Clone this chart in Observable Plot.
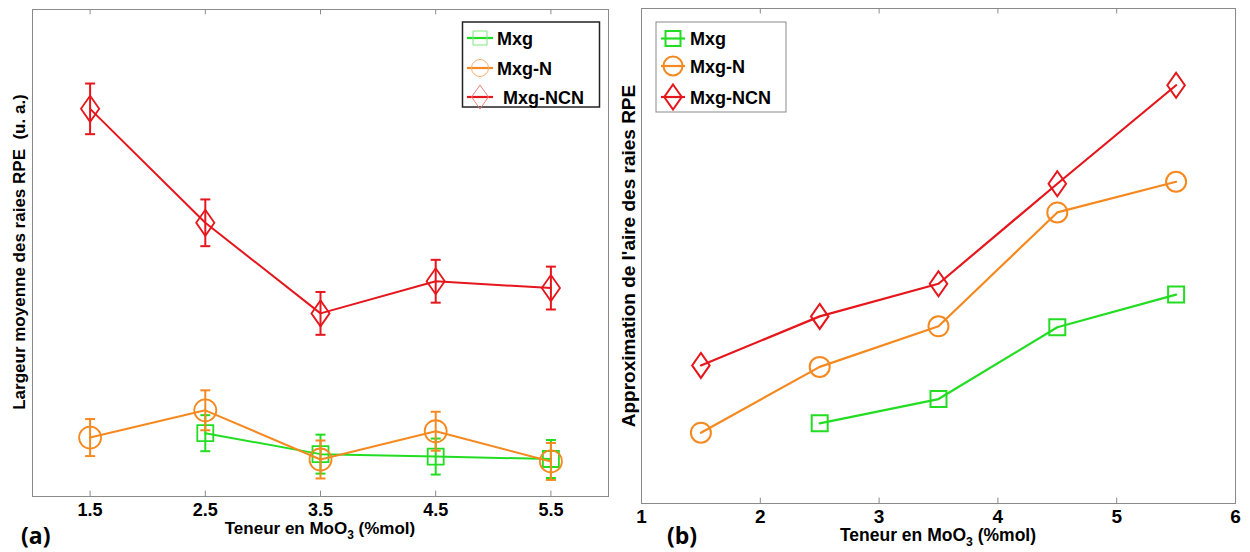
<!DOCTYPE html>
<html><head><meta charset="utf-8">
<script src="https://cdn.jsdelivr.net/npm/d3@7"></script>
<script src="https://cdn.jsdelivr.net/npm/@observablehq/plot@0.6"></script>
<style>
html,body{margin:0;padding:0;background:#fff;}
#wrap{position:relative;width:1250px;height:552px;overflow:hidden;background:#fff;}
#wrap svg{position:absolute;top:0;}
</style></head><body><div id="wrap"></div>
<script>
// ---------- data ----------
const teneur = [1.5, 2.5, 3.5, 4.5, 5.5];
const seriesNames = ["Mxg", "Mxg-N", "Mxg-NCN"];
const seriesColors = ["#22dd22", "#f5891f", "#e5161c"];
const legendLight = ["#7fe67f", "#f6b173", "#ee8080"];
// panel (a): Largeur moyenne des raies RPE (u. a.)
const largeurMxg = [null, 13.0, 8.7, 8.2, 7.7];
const largeurMxgErr = [null, 3.7, 4.0, 3.7, 3.9];
const largeurMxgN = [12.1, 17.7, 7.6, 13.4, 7.2];
const largeurMxgNErr = [3.8, 4.1, 3.9, 4.0, 3.8];
const largeurMxgNCN = [79.6, 56.2, 37.6, 44.2, 42.8];
const largeurMxgNCNErr = [5.2, 4.8, 4.4, 4.4, 4.4];
// panel (b): Approximation de l'aire des raies RPE
const aireMxg = [null, 16.2, 21.1, 35.6, 42.2];
const aireMxgN = [14.3, 27.6, 35.8, 58.8, 65.0];
const aireMxgNCN = [27.9, 37.8, 44.4, 64.6, 84.5];
// ticks
const ticksA = [1.5, 2.5, 3.5, 4.5, 5.5];
const ticksB = [1, 2, 3, 4, 5, 6];
const innerTicksB = [2, 3, 4, 5];

// ---------- symbols ----------
const symSquare = {draw(c, s) {const r = Math.sqrt(s / Math.PI); c.moveTo(-r, -r); c.lineTo(r, -r); c.lineTo(r, r); c.lineTo(-r, r); c.closePath();}};
const symCircle = {draw(c, s) {const r = Math.sqrt(s / Math.PI); c.moveTo(r, 0); c.arc(0, 0, r, 0, 2 * Math.PI); c.closePath();}};
const symDiamond = {draw(c, s) {const r = Math.sqrt(s / Math.PI); const w = r * 0.7; c.moveTo(0, -r); c.lineTo(w, 0); c.lineTo(0, r); c.lineTo(-w, 0); c.closePath();}};
const symCap = {draw(c, s) {const r = Math.sqrt(s / Math.PI); c.moveTo(-r, 0); c.lineTo(r, 0);}};
const symbols = [symSquare, symCircle, symDiamond];
const symR = [8, 11, 13];

function rows(vals, errs) {
  return teneur.map((x, i) => ({x, y: vals[i], e: errs ? errs[i] : 0})).filter(d => d.y != null);
}

const FONT = "'Liberation Sans', Arial, sans-serif";
const FRAME = "#8a8a8a";
const wrap = document.getElementById("wrap");

// ---------- panel (a) ----------
const dataA = [rows(largeurMxg, largeurMxgErr), rows(largeurMxgN, largeurMxgNErr), rows(largeurMxgNCN, largeurMxgNCNErr)];
const marksA = [
  Plot.frame({stroke: FRAME}),
  Plot.ruleX(ticksA, {x: d => d, y1: 0, y2: 1.1, stroke: FRAME}),
  Plot.ruleX(ticksA, {x: d => d, y1: 100, y2: 98.9, stroke: FRAME}),
  Plot.axisX(ticksA, {tickSize: 0, tickPadding: 7, fontSize: 18, fontWeight: "bold", fill: "black", label: null, tickFormat: d => d.toFixed(1)})
];
dataA.forEach((rs, i) => {
  const col = seriesColors[i];
  marksA.push(
    Plot.line(rs, {x: "x", y: "y", stroke: col, strokeWidth: 2}),
    Plot.ruleX(rs, {x: "x", y1: d => d.y - d.e, y2: d => d.y + d.e, stroke: col, strokeWidth: 2}),
    Plot.dot(rs, {x: "x", y: d => d.y - d.e, symbol: symCap, r: 5, stroke: col, strokeWidth: 2}),
    Plot.dot(rs, {x: "x", y: d => d.y + d.e, symbol: symCap, r: 5, stroke: col, strokeWidth: 2}),
    Plot.dot(rs, {x: "x", y: "y", symbol: symbols[i], r: symR[i], stroke: col, fill: "none", strokeWidth: 1.8})
  );
});
const plotA = Plot.plot({
  width: 620, height: 552,
  marginLeft: 32, marginRight: 12, marginTop: 9, marginBottom: 56,
  x: {domain: [1, 6]},
  y: {domain: [0, 100], axis: null},
  style: {fontFamily: FONT, background: "transparent", overflow: "visible"},
  marks: marksA
});
plotA.style.left = "0px";
wrap.appendChild(plotA);

// ---------- panel (b) ----------
const dataB = [rows(aireMxg), rows(aireMxgN), rows(aireMxgNCN)];
const symRB = [8, 10, 12.5];
const marksB = [
  Plot.frame({stroke: FRAME}),
  Plot.ruleX(innerTicksB, {x: d => d, y1: 0, y2: 1.1, stroke: FRAME}),
  Plot.ruleX(innerTicksB, {x: d => d, y1: 100, y2: 98.9, stroke: FRAME}),
  Plot.axisX(ticksB, {tickSize: 0, tickPadding: 6, fontSize: 19, fontWeight: "bold", fill: "black", label: null, tickFormat: d => String(d)})
];
dataB.forEach((rs, i) => {
  const col = seriesColors[i];
  marksB.push(
    Plot.line(rs, {x: "x", y: "y", stroke: col, strokeWidth: 2.2}),
    Plot.dot(rs, {x: "x", y: "y", symbol: symbols[i], r: symRB[i], stroke: col, fill: "none", strokeWidth: 2})
  );
});
const plotB = Plot.plot({
  width: 630, height: 552,
  marginLeft: 21, marginRight: 15, marginTop: 8, marginBottom: 49,
  x: {domain: [1, 6]},
  y: {domain: [0, 100], axis: null},
  style: {fontFamily: FONT, background: "transparent", overflow: "visible"},
  marks: marksB
});
plotB.style.left = "620px";
wrap.appendChild(plotB);

// ---------- texts & legends ----------
function xLabel(svg, cx, baseline, size) {
  const t = d3.select(svg).append("text")
    .attr("x", cx).attr("y", baseline).attr("text-anchor", "middle")
    .attr("font-family", FONT).attr("font-weight", "bold").attr("font-size", size).attr("fill", "black");
  t.append("tspan").text("Teneur en MoO");
  t.append("tspan").attr("font-size", size * 0.7).attr("dy", 5).text("3");
  t.append("tspan").attr("dy", -5).text(" (%mol)");
}
function yLabel(svg, cx, cy, size, txt) {
  d3.select(svg).append("text")
    .attr("transform", `translate(${cx},${cy}) rotate(-90)`)
    .attr("text-anchor", "middle").attr("dominant-baseline", "central")
    .attr("font-family", FONT).attr("font-weight", "bold").attr("font-size", size).attr("fill", "black")
    .style("white-space", "pre")
    .text(txt);
}
function panelTag(svg, x, baseline, txt) {
  d3.select(svg).append("text").attr("x", x).attr("y", baseline).attr("text-anchor", "start")
    .attr("font-family", "'Open Sans', 'Noto Sans', sans-serif").attr("font-weight", "bold")
    .attr("font-size", 23).attr("fill", "black").text(txt);
}
function legend(svg, o) {
  const g = d3.select(svg).append("g");
  g.append("rect").attr("x", o.x).attr("y", o.y).attr("width", o.w).attr("height", o.h)
    .attr("fill", "white").attr("stroke", o.boxStroke).attr("stroke-width", o.boxWidth);
  seriesNames.forEach((name, i) => {
    const cy = o.rows[i];
    g.append("line").attr("x1", o.l0).attr("x2", o.l1).attr("y1", cy).attr("y2", cy)
      .attr("stroke", seriesColors[i]).attr("stroke-width", 2.2);
    const r = o.symR[i];
    g.append("path").attr("transform", `translate(${o.mx},${cy})`)
      .attr("d", d3.symbol(symbols[i], Math.PI * r * r)())
      .attr("fill", "none").attr("stroke", o.faded ? legendLight[i] : seriesColors[i])
      .attr("stroke-width", o.faded ? 1 : 2);
    g.append("text").attr("x", o.tx[i]).attr("y", cy + 6.5).attr("text-anchor", "start")
      .attr("font-family", FONT).attr("font-weight", "bold").attr("font-size", 18).attr("fill", "black")
      .text(name);
  });
}

xLabel(plotA, 320, 534, 17);
yLabel(plotA, 19, 252, 17, "Largeur moyenne des raies RPE  (u. a.)");
panelTag(plotA, 21, 544, "(a)");
legend(plotA, {x: 462.5, y: 22, w: 137, h: 85, boxStroke: "#222", boxWidth: 1.5,
  rows: [38, 68, 97], l0: 467, l1: 493, mx: 480, tx: [497, 497, 503], symR: [7, 8.5, 12], faded: true});

xLabel(plotB, 318, 541, 17.5);
yLabel(plotB, 8, 256, 19, "Approximation de l'aire des raies RPE");
panelTag(plotB, 47, 544, "(b)");
legend(plotB, {x: 36, y: 22, w: 130, h: 90, boxStroke: "#8a8a8a", boxWidth: 1,
  rows: [38.5, 66, 97], l0: 41, l1: 65, mx: 53, tx: [70, 70, 70], symR: [7.5, 9.5, 12.5], faded: false});
</script>
</body></html>
